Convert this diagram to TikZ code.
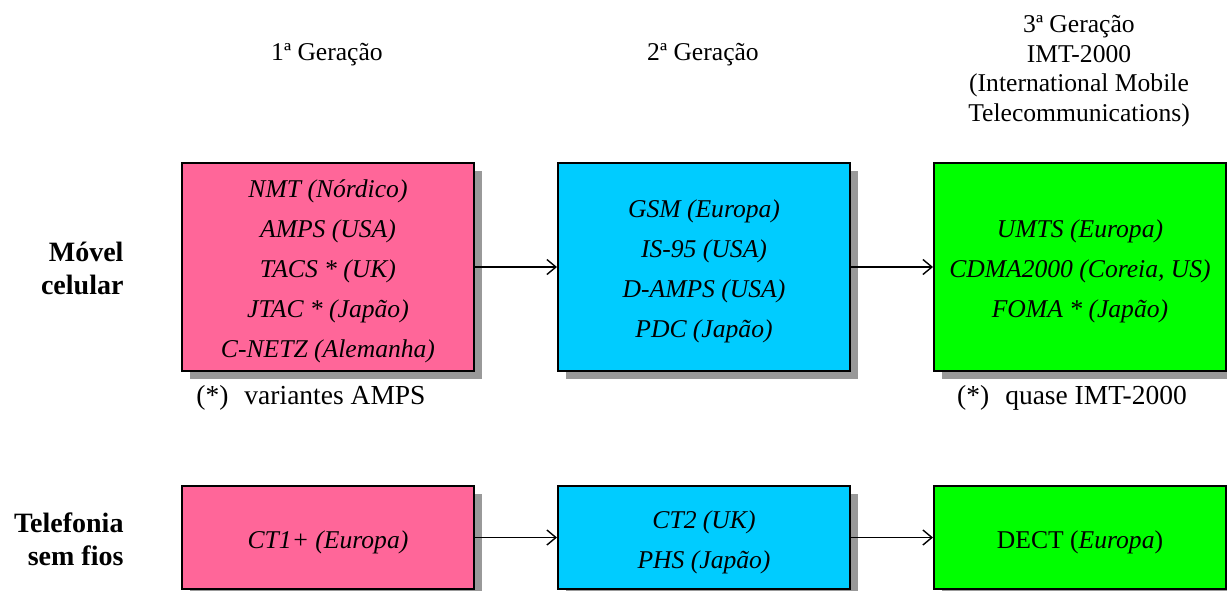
\documentclass[tikz,border=0pt]{standalone}
\usepackage{fontspec}
\setmainfont{Liberation Serif}[
  BoldFont={Liberation Serif Bold},
  ItalicFont={Liberation Serif Italic},
  BoldItalicFont={Liberation Serif Bold Italic}]
\usetikzlibrary{shadows,arrows.meta}
\definecolor{gen1}{HTML}{FF6699}
\definecolor{gen2}{HTML}{00CCFF}
\definecolor{gen3}{HTML}{00FF00}
\definecolor{shade}{HTML}{999999}
\begin{document}
\begin{tikzpicture}[x=1pt,y=-1pt,
  techbox/.style={draw=black, line width=2pt, minimum width=292pt,
    inner sep=0pt, anchor=north west,
    drop shadow={shadow xshift=8pt, shadow yshift=-8pt, fill=shade, opacity=1}},
  tallbox/.style={techbox, minimum height=208pt},
  lowbox/.style={techbox, minimum height=103pt},
  boxtext/.style={align=center, inner sep=0pt, font=\fontsize{25.6}{40}\selectfont\itshape},
  header/.style={align=center, font=\fontsize{25.6}{29.5}\selectfont},
  rowlabel/.style={align=right, anchor=east, font=\fontsize{28}{33}\selectfont\bfseries},
  note/.style={font=\fontsize{27.5}{30}\selectfont},
  flow/.style={line width=1.4pt, -{Straight Barb[length=9pt,width=15pt,line width=1.4pt]}}]
\useasboundingbox (0,0) rectangle (1227,590);

% generation headings
\node[header] (h1) at (327,55) {1ª Geração};
\node[header] (h2) at (703,55) {2ª Geração};
\node[header] (h3) at (1079,71) {3ª Geração\\IMT-2000\\(International Mobile\\Telecommunications)};

% row labels
\node[rowlabel] (lmob) at (127,268) {Móvel\\celular};
\node[rowlabel] (lcord) at (127,539) {Telefonia\\sem fios};

% mobile cellular systems
\node[tallbox, fill=gen1] (m1) at (181,162) {};
\node[tallbox, fill=gen2] (m2) at (557,162) {};
\node[tallbox, fill=gen3] (m3) at (933,162) {};
\node[boxtext] (m1t) at ([yshift=-4pt]m1.center) {NMT (Nórdico)\\AMPS (USA)\\TACS * (UK)\\JTAC * (Japão)\\C-NETZ (Alemanha)};
\node[boxtext] (m2t) at ([yshift=-4pt]m2.center) {GSM (Europa)\\IS-95 (USA)\\D-AMPS (USA)\\PDC (Japão)};
\node[boxtext] (m3t) at ([yshift=-4pt]m3.center) {UMTS (Europa)\\CDMA2000 (Coreia, US)\\FOMA * (Japão)};

% footnotes
\node[note] (n1) at (311,398) {(*)\hspace{16pt}variantes AMPS};
\node[note] (n3) at (1072,398) {(*)\hspace{16pt}quase IMT-2000};

% cordless telephony systems
\node[lowbox, fill=gen1] (c1) at (181,485) {};
\node[lowbox, fill=gen2] (c2) at (557,485) {};
\node[lowbox, fill=gen3] (c3) at (933,485) {};
\node[boxtext] (c1t) at ([yshift=-5pt]c1.center) {CT1+ (Europa)};
\node[boxtext] (c2t) at ([yshift=-5pt]c2.center) {CT2 (UK)\\PHS (Japão)};
\node[boxtext, font=\fontsize{25.6}{40}\selectfont] (c3t) at ([yshift=-5pt]c3.center) {DECT (\textit{Europa})};

% evolution arrows
\draw[flow] (m1.east) -- (m2.west);
\draw[flow] (m2.east) -- (m3.west);
\draw[flow] (c1.east) -- (c2.west);
\draw[flow] (c2.east) -- (c3.west);
\end{tikzpicture}
\end{document}
